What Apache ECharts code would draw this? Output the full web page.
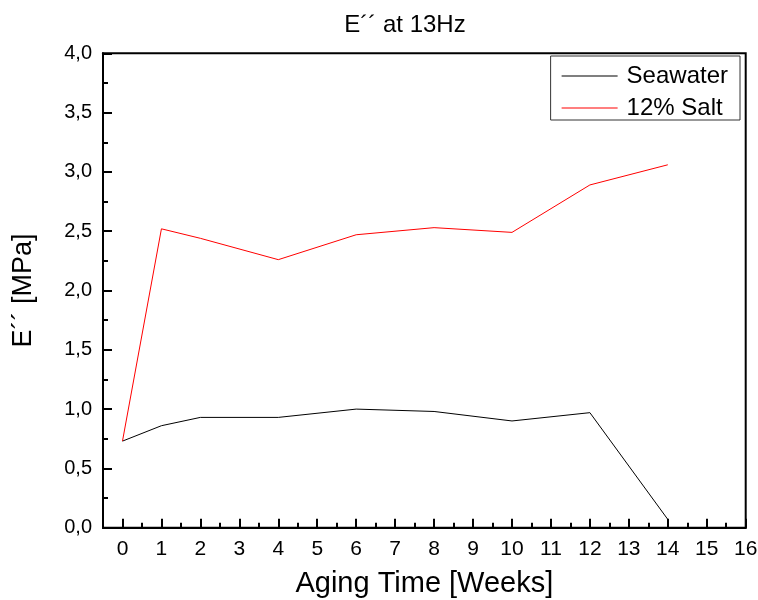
<!DOCTYPE html>
<html>
<head>
<meta charset="utf-8">
<script src="https://cdn.jsdelivr.net/npm/echarts@6/dist/echarts.min.js"></script>
<style>html,body{margin:0;padding:0;background:#fff}#chart{width:758px;height:600px}</style>
</head>
<body>
<div id="chart"></div>
<script>
const weeks = [0, 1, 2, 4, 6, 8, 10, 12, 14];
const seawater = [0.73, 0.86, 0.93, 0.93, 1.00, 0.98, 0.90, 0.97, 0.07];
const salt12 = [0.73, 2.52, 2.44, 2.26, 2.47, 2.53, 2.49, 2.89, 3.06];
const xMajorTicks = [0, 1, 2, 3, 4, 5, 6, 7, 8, 9, 10, 11, 12, 13, 14, 15, 16];
const xMinorTicks = [0.5, 1.5, 2.5, 3.5, 4.5, 5.5, 6.5, 7.5, 8.5, 9.5, 10.5, 11.5, 12.5, 13.5, 14.5, 15.5];
const seriesNames = ['Seawater', '12% Salt'];

const FONT = '"Liberation Sans", Arial, sans-serif';
const chart = echarts.init(document.getElementById('chart'), null, {renderer: 'canvas'});
const pairs = (ys) => weeks.map((w, i) => [w, ys[i]]);

chart.setOption({
  animation: false,
  backgroundColor: '#fff',
  title: {
    text: 'E´´ at 13Hz',
    left: 405, top: 13, textAlign: 'center', padding: 0,
    textStyle: {fontFamily: FONT, fontSize: 24, fontWeight: 'normal', color: '#000'}
  },
  legend: {
    orient: 'vertical', right: 18, top: 56,
    padding: [8, 12, 0, 11], itemGap: 8,
    itemWidth: 56, itemHeight: 1.2, icon: 'rect',
    borderColor: '#333', borderWidth: 1,
    data: seriesNames,
    textStyle: {fontFamily: FONT, fontSize: 24, color: '#000', padding: [0, 0, 0, 4]}
  },
  grid: {
    left: 103, right: 12.3, top: 53.3, bottom: 72.3,
    outerBoundsMode: 'none', containLabel: false,
    show: true, borderColor: '#000', borderWidth: 2, backgroundColor: 'transparent'
  },
  xAxis: [{
    type: 'value', min: -0.5, max: 16,
    name: 'Aging Time [Weeks]', nameLocation: 'middle', nameGap: 42,
    nameTextStyle: {fontFamily: FONT, fontSize: 29, color: '#000'},
    axisLine: {show: true, onZero: false, lineStyle: {color: '#000', width: 2}},
    axisTick: {show: true, inside: true, length: 9, customValues: xMajorTicks, lineStyle: {color: '#000', width: 2}},
    axisLabel: {show: true, customValues: xMajorTicks, margin: 11, fontFamily: FONT, fontSize: 21, color: '#000'},
    splitLine: {show: false}
  }, {
    type: 'value', min: -0.5, max: 16, position: 'bottom',
    axisLine: {show: false, onZero: false},
    axisTick: {show: true, inside: true, length: 5, customValues: xMinorTicks, lineStyle: {color: '#000', width: 2}},
    axisLabel: {show: false},
    splitLine: {show: false}
  }],
  yAxis: {
    type: 'value', min: 0, max: 4, interval: 0.5,
    name: 'E´´ [MPa]', nameLocation: 'middle', nameGap: 66,
    nameTextStyle: {fontFamily: FONT, fontSize: 27, color: '#000'},
    axisLine: {show: true, onZero: false, lineStyle: {color: '#000', width: 2}},
    axisTick: {show: true, inside: true, length: 9, lineStyle: {color: '#000', width: 2}},
    minorTick: {show: true, splitNumber: 2, length: 5, lineStyle: {color: '#000', width: 2}},
    axisLabel: {margin: 11, fontFamily: FONT, fontSize: 20, color: '#000',
      formatter: (v) => v.toFixed(1).replace('.', ',')},
    splitLine: {show: false},
    minorSplitLine: {show: false}
  },
  series: [{
    name: seriesNames[0], type: 'line', xAxisIndex: 0, data: pairs(seawater),
    symbol: 'none', lineStyle: {color: '#000', width: 1}, itemStyle: {color: '#000'}
  }, {
    name: seriesNames[1], type: 'line', xAxisIndex: 0, data: pairs(salt12),
    symbol: 'none', lineStyle: {color: '#ff0000', width: 1}, itemStyle: {color: '#ff0000'}
  }]
});
</script>
</body>
</html>
